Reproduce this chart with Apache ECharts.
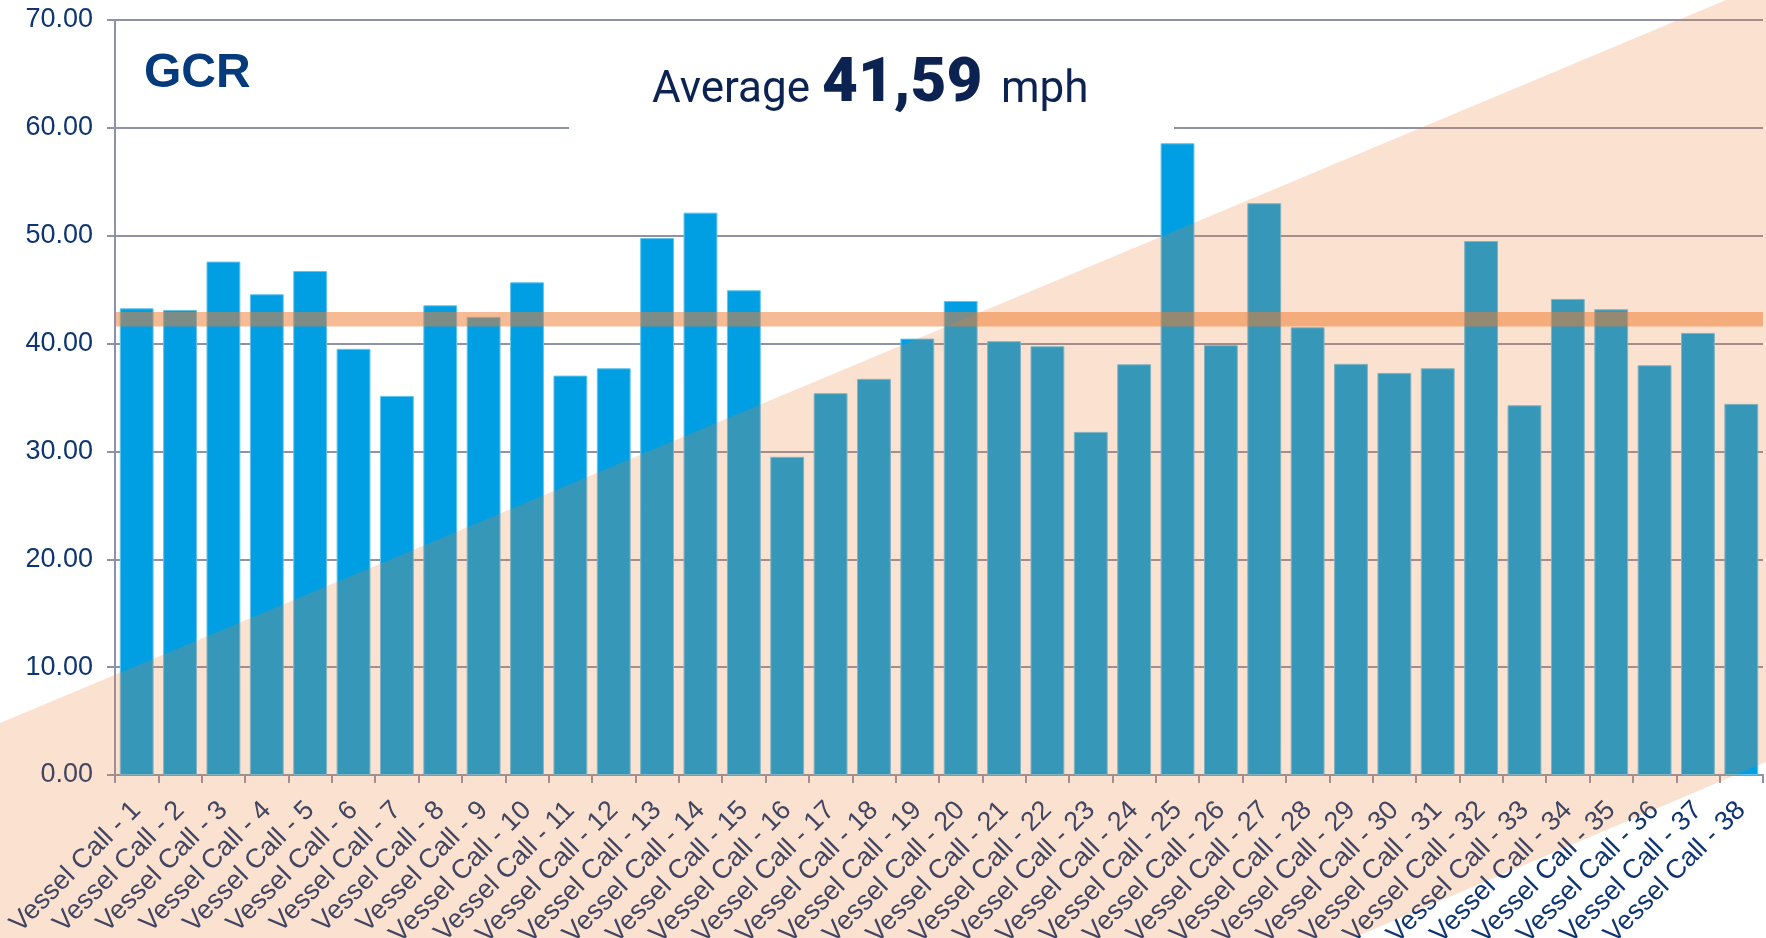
<!DOCTYPE html>
<html>
<head>
<meta charset="utf-8">
<title>GCR</title>
<script src="https://cdn.jsdelivr.net/npm/echarts@6/dist/echarts.min.js"></script>
<style>
  html, body { margin: 0; padding: 0; background: #ffffff; }
  #GcrChart { width: 1766px; height: 938px; }
</style>
</head>
<body>
<div id="GcrChart"></div>
<script>
// values
var vesselCalls = [];
for (var n = 1; n <= 38; n++) {
  vesselCalls.push("Vessel Call - " + n);
}
var speedValues = [
  43.27, 43.12, 47.60, 44.57, 46.73, 39.51, 35.15, 43.55, 42.47, 45.68,
  37.03, 37.71, 49.79, 52.14, 44.94, 29.50, 35.40, 36.73, 40.46, 43.95,
  40.22, 39.75, 31.81, 38.08, 58.57, 39.85, 53.01, 41.51, 38.12, 37.28,
  37.71, 49.51, 34.28, 44.14, 43.18, 37.99, 40.99, 34.41
];
var averageText = "41,59";
var avgBand = [41.59, 42.93];
var yTicks = [0, 10, 20, 30, 40, 50, 60, 70];

var navy = "#0e3572";
var gridGray = "#8f91a9";

var chart = echarts.init(document.getElementById("GcrChart"));

var option = {
  backgroundColor: "#ffffff",
  animation: false,
  grid: {
    left: 115,
    right: 3,
    top: 20,
    bottom: 163,
    containLabel: false,
    outerBoundsMode: "none",
  },
  xAxis: {
    type: "category",
    data: vesselCalls,
    boundaryGap: true,
    axisLine: {
      lineStyle: { color: gridGray, width: 2 },
    },
    axisTick: {
      show: true,
      length: 8,
      lineStyle: { color: gridGray, width: 2 },
    },
    axisLabel: {
      interval: 0,
      rotate: 45,
      margin: 31,
      color: navy,
      fontSize: 27,
      fontFamily: "Liberation Sans, Arial, sans-serif",
    },
  },
  yAxis: {
    type: "value",
    min: yTicks[0],
    max: yTicks[yTicks.length - 1],
    interval: 10,
    axisLine: {
      show: true,
      lineStyle: { color: gridGray, width: 2 },
    },
    axisTick: {
      show: true,
      length: 8,
      lineStyle: { color: gridGray, width: 2 },
    },
    axisLabel: {
      margin: 22,
      color: navy,
      fontSize: 27,
      fontFamily: "Liberation Sans, Arial, sans-serif",
      formatter: function (v) {
        return v.toFixed(2);
      },
    },
    splitLine: {
      lineStyle: { color: gridGray, width: 2 },
    },
  },
  series: [
    {
      name: "GCR",
      type: "bar",
      barWidth: "78%",
      itemStyle: {
        color: "#009fe3",
        borderColor: "#62c3ed",
        borderWidth: 1,
      },
      data: speedValues,
      markArea: {
        silent: true,
        z: 4,
        itemStyle: { color: "rgba(237,125,49,0.52)" },
        label: { show: false },
        data: [[{ yAxis: avgBand[0] }, { yAxis: avgBand[1] }]],
      },
    },
  ],
  graphic: [
    {
      // white box behind the title that breaks the 60 line
      type: "rect",
      z: 1,
      shape: { x: 569, y: 120, width: 605, height: 14 },
      style: { fill: "#ffffff" },
    },
    {
      type: "text",
      z: 10,
      x: 144,
      y: 74,
      style: {
        text: "GCR",
        font: "bold 48px 'Liberation Sans', Arial, sans-serif",
        fill: "#053a7d",
        align: "left",
        verticalAlign: "middle",
        textAlign: "left",
        textVerticalAlign: "middle",
      },
    },
    {
      type: "text",
      z: 10,
      x: 652,
      y: 91,
      style: {
        text: "Average",
        font: "44px Roboto, sans-serif",
        fill: "#0c2352",
        align: "left",
        verticalAlign: "middle",
        textAlign: "left",
        textVerticalAlign: "middle",
      },
    },
    {
      type: "text",
      z: 10,
      x: 822,
      y: 85,
      style: {
        text: averageText,
        font: "900 62px Roboto, sans-serif",
        fill: "#0c2352",
        align: "left",
        verticalAlign: "middle",
        textAlign: "left",
        textVerticalAlign: "middle",
      },
    },
    {
      type: "text",
      z: 10,
      x: 1001,
      y: 91,
      style: {
        text: "mph",
        font: "44px Roboto, sans-serif",
        fill: "#0c2352",
        align: "left",
        verticalAlign: "middle",
        textAlign: "left",
        textVerticalAlign: "middle",
      },
    },
    {
      // peach diagonal band laid over the whole picture
      type: "polygon",
      z: 100,
      silent: true,
      shape: {
        points: [
          [0, 723], [1726, 0], [1766, 0], [1766, 762], [1353, 938], [0, 938],
        ],
      },
      style: { fill: "rgba(237,125,49,0.23)" },
    },
  ],
};

chart.setOption(option);
</script>
</body>
</html>
